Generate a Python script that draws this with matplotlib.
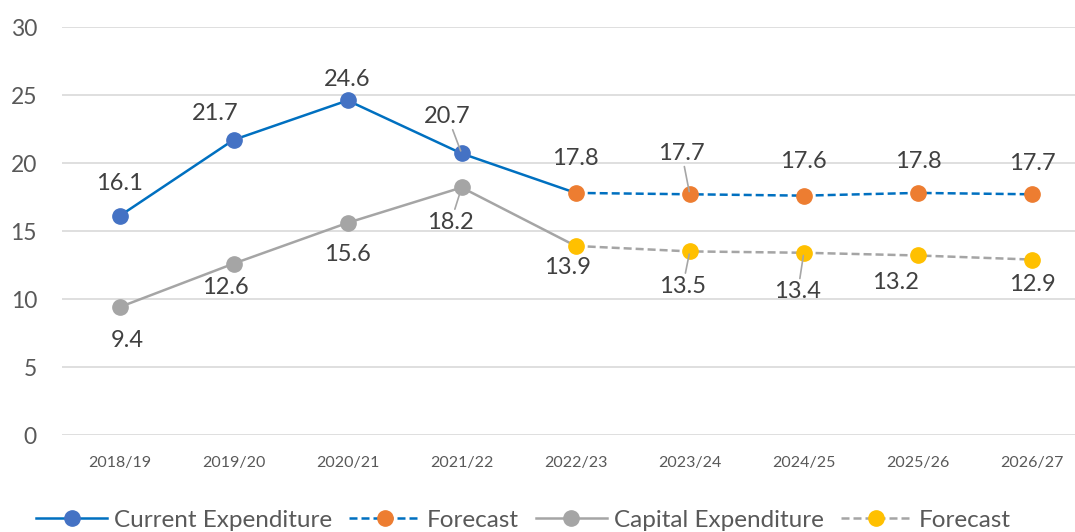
import matplotlib
matplotlib.use("Agg")
import matplotlib.pyplot as plt
from matplotlib.lines import Line2D

plt.rcParams['font.family'] = ['Lato', 'DejaVu Sans']

years = ['2018/19', '2019/20', '2020/21', '2021/22', '2022/23',
         '2023/24', '2024/25', '2025/26', '2026/27']
current = [16.1, 21.7, 24.6, 20.7, 17.8, 17.7, 17.6, 17.8, 17.7]
capital = [9.4, 12.6, 15.6, 18.2, 13.9, 13.5, 13.4, 13.2, 12.9]
split = 4  # first forecast year index (2022/23 is shared)

# label offsets in pixels (dx, dy), leader flag
cur_off = [(0, 33, 0), (-18, 26, 0), (0, 21, 0), (-14, 37, 1), (0, 34, 0),
           (-8, 41, 1), (0, 34, 0), (0, 31, 0), (0, 31, 0)]
cap_off = [(8, -33, 0), (-8, -24, 0), (0, -32, 0), (-11, -35, 1), (-8, -22, 0),
           (-7, -35, 1), (-6, -39, 1), (-22, -27, 0), (0, -25, 0)]

BLUE_LINE = '#0070C0'
BLUE_MK = '#4472C4'
ORANGE = '#ED7D31'
GRAY = '#A5A5A5'
YELLOW = '#FFC000'
TXT = '#404040'

fig = plt.figure(figsize=(10.75, 5.32), dpi=100)
ax = fig.add_axes([62 / 1075, 97 / 532, 1013 / 1075, 408 / 532])

x = list(range(len(years)))
lw = 1.8
ms = 11
dash = (3.2, 1.6)

# actual series
ax.plot(x[:split + 1], current[:split + 1], color=BLUE_LINE, lw=lw, zorder=3)
ax.plot(x[:split], current[:split], ls='none', marker='o', ms=ms,
        color=BLUE_MK, zorder=4)
ax.plot(x[:split + 1], capital[:split + 1], color=GRAY, lw=lw, zorder=3)
ax.plot(x[:split], capital[:split], ls='none', marker='o', ms=ms,
        color=GRAY, zorder=4)

# forecast series
ax.plot(x[split:], current[split:], color=BLUE_LINE, lw=lw, dashes=dash, zorder=3)
ax.plot(x[split:], current[split:], ls='none', marker='o', ms=ms,
        color=ORANGE, zorder=4)
ax.plot(x[split:], capital[split:], color=GRAY, lw=lw, dashes=dash, zorder=3)
ax.plot(x[split:], capital[split:], ls='none', marker='o', ms=ms,
        color=YELLOW, zorder=4)

def label(vals, offs):
    for i, v in enumerate(vals):
        dx, dy, lead = offs[i]
        kw = {}
        if lead:
            kw['arrowprops'] = dict(arrowstyle='-', color='#A6A6A6', lw=1.2,
                                    shrinkA=0, shrinkB=2)
        ax.annotate(f'{v:.1f}', (i, v), xytext=(dx, dy),
                    textcoords='offset pixels', ha='center', va='center',
                    fontsize=17, color=TXT, zorder=5, **kw)

label(current, cur_off)
label(capital, cap_off)

ax.set_xlim((62 - 119.5) / 114.05, (1075 - 119.5) / 114.05)
ax.set_ylim(0, 30)
ax.set_yticks(range(0, 31, 5))
ax.set_xticks(x)
ax.set_xticklabels(years)
ax.grid(axis='y', color='#D9D9D9', lw=1.2)
ax.set_axisbelow(True)
for s in ax.spines.values():
    s.set_visible(False)
ax.tick_params(axis='y', length=0, pad=18, labelsize=16.5, labelcolor='#595959')
ax.tick_params(axis='x', length=0, pad=15, labelsize=11.5, labelcolor='#595959')

handles = [
    Line2D([], [], color=BLUE_LINE, lw=lw, marker='o', ms=ms,
           markerfacecolor=BLUE_MK, markeredgecolor=BLUE_MK),
    Line2D([], [], color=BLUE_LINE, lw=lw, dashes=dash, marker='o', ms=ms,
           markerfacecolor=ORANGE, markeredgecolor=ORANGE),
    Line2D([], [], color=GRAY, lw=lw, marker='o', ms=ms),
    Line2D([], [], color=GRAY, lw=lw, dashes=dash, marker='o', ms=ms,
           markerfacecolor=YELLOW, markeredgecolor=YELLOW),
]
names = ['Current Expenditure', 'Forecast', 'Capital Expenditure', 'Forecast']
fig.legend(handles, names, loc='center', bbox_to_anchor=(0.487, 0.022),
           ncol=4, frameon=False, fontsize=17.5, labelcolor='#595959',
           handlelength=2.9, handletextpad=0.3, columnspacing=0.7, numpoints=1)

fig.savefig('out.png', dpi=100)
